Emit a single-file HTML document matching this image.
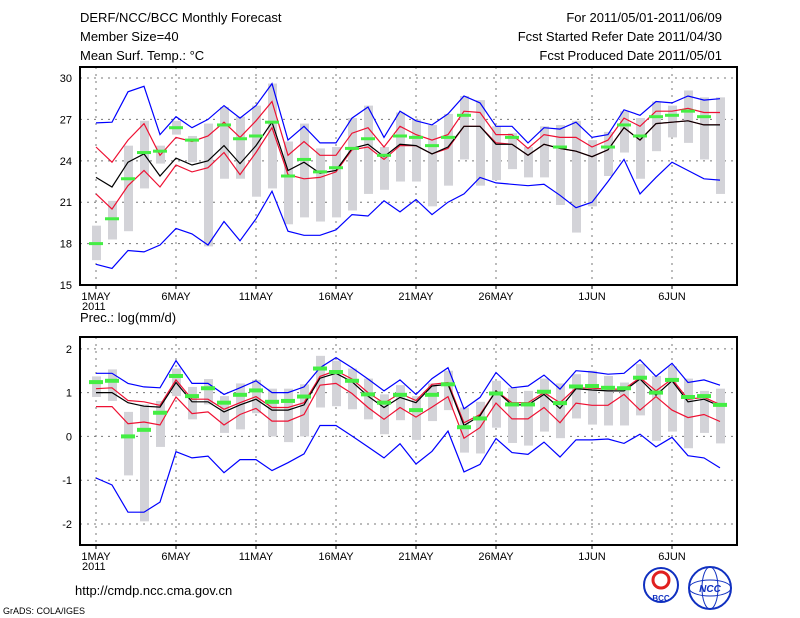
<!DOCTYPE html>
<html><head><meta charset="utf-8"><style>
html,body{margin:0;padding:0;background:#fff;}
svg{display:block;font-family:"Liberation Sans",sans-serif;}
.t{font-size:13px;fill:#000;}
.tk{font-size:11px;fill:#000;}
</style></head><body>
<svg id="c" width="800" height="618" viewBox="0 0 800 618" xmlns="http://www.w3.org/2000/svg">
<text class="t" x="80" y="22">DERF/NCC/BCC Monthly Forecast</text>
<text class="t" x="80" y="41">Member Size=40</text>
<text class="t" x="80" y="60">Mean Surf. Temp.: °C</text>
<text class="t" x="722" y="22" text-anchor="end">For 2011/05/01-2011/06/09</text>
<text class="t" x="722" y="41" text-anchor="end">Fcst Started Refer Date 2011/04/30</text>
<text class="t" x="722" y="60" text-anchor="end">Fcst Produced Date 2011/05/01</text>
<text class="t" x="80" y="322">Prec.: log(mm/d)</text>
<text class="t" x="75" y="595">http://cmdp.ncc.cma.gov.cn</text>
<text x="3" y="614" style="font-size:9px">GrADS: COLA/IGES</text>
<g>
<circle cx="661" cy="585" r="17" fill="#fff" stroke="#1030c0" stroke-width="2"/>
<circle cx="661" cy="580" r="8" fill="none" stroke="#e02020" stroke-width="3"/>
<text x="661" y="601" text-anchor="middle" style="font-size:8px;font-weight:bold" fill="#1030c0">BCC</text>
</g>
<g>
<circle cx="710" cy="588" r="21" fill="#fff" stroke="#1030c0" stroke-width="2"/>
<ellipse cx="710" cy="588" rx="21" ry="8" fill="none" stroke="#1030c0"/>
<ellipse cx="710" cy="588" rx="8" ry="21" fill="none" stroke="#1030c0"/>
<text x="710" y="592" text-anchor="middle" style="font-size:10px;font-weight:bold;font-style:italic" fill="#1030c0">NCC</text>
</g>
</svg>
<script>
// ---- Temperature panel data (40 days, 2011-05-01 .. 2011-06-09) ----
const tDays = 40;
const tBlueHi = [26.75,26.8,29.0,29.4,25.9,27.2,26.4,27.0,28.0,27.1,28.0,29.6,25.5,26.5,25.3,25.3,27.1,27.9,25.7,27.6,26.9,26.6,27.4,28.7,28.2,26.5,26.5,25.3,26.4,26.3,26.8,25.7,25.9,27.7,27.3,28.3,28.2,28.7,28.4,28.5];
const tBlueLo = [16.5,16.2,17.5,17.4,17.9,19.1,18.7,17.9,19.6,18.2,19.8,21.8,18.9,18.6,18.6,19.0,20.1,20.0,21.1,20.3,21.2,20.1,21.0,21.6,22.8,22.4,22.3,22.2,22.3,21.5,20.6,21.0,22.5,24.1,21.6,22.8,23.9,23.3,22.7,22.6];
const tRedHi = [25.0,23.9,25.5,26.7,24.4,25.7,25.4,25.8,26.8,25.7,26.9,28.3,24.4,25.4,24.4,24.4,26.0,26.4,25.0,26.5,25.9,25.5,25.9,27.6,27.5,25.9,25.9,24.9,25.9,25.7,25.7,25.0,25.5,27.1,26.5,27.6,27.6,27.8,27.5,27.5];
const tRedLo = [21.6,20.5,22.2,23.3,22.1,23.7,23.2,23.5,24.6,23.0,24.6,26.4,23.0,22.7,22.8,23.2,24.8,25.0,24.1,25.1,25.1,24.5,24.9,26.5,26.5,25.3,25.2,24.4,25.2,24.9,24.7,24.3,24.8,26.4,25.5,26.7,26.8,26.9,26.6,26.6];
const tMean = [22.8,22.1,23.9,24.5,22.9,24.2,23.7,24.0,25.1,23.8,25.1,26.8,23.3,23.9,23.1,23.3,24.9,25.2,24.3,25.2,25.1,24.5,25.0,26.5,26.5,25.2,25.2,24.4,25.2,24.9,24.7,24.3,24.8,26.4,25.5,26.7,26.8,26.9,26.6,26.6];
const tObs = [18.0,19.8,22.7,24.6,24.7,26.4,25.5,null,26.6,25.6,25.8,26.8,22.9,24.1,23.2,23.5,24.9,25.6,24.4,25.8,25.7,25.1,25.7,27.3,null,null,25.7,null,null,25.0,null,null,25.0,26.6,25.8,27.2,27.3,27.6,27.2,null];
const tMax = [19.3,21.1,25.1,26.9,25.1,26.9,25.8,26.7,27.9,27.2,28.0,29.6,25.4,26.7,24.9,25.0,27.1,28.0,25.0,27.5,27.0,26.6,27.4,28.7,28.4,26.5,26.0,25.0,26.5,26.6,26.9,25.5,26.1,27.6,27.1,28.3,28.0,29.1,28.6,28.6];
const tMin = [16.8,18.3,18.9,22.0,23.8,25.9,23.9,17.8,22.7,22.7,21.4,22.0,19.4,19.9,19.6,19.9,20.4,21.6,21.9,22.5,22.5,20.7,22.2,24.1,22.2,22.6,23.4,22.8,22.8,20.8,18.8,20.7,22.9,24.6,22.7,24.7,25.7,25.3,24.1,21.6];
const tTicks = [15,18,21,24,27,30];

// ---- Precipitation panel data ----
const pBlueHi = [1.44,1.44,1.21,1.13,1.11,1.73,1.21,1.21,0.96,1.11,1.27,1.0,1.0,1.13,1.57,1.80,1.57,1.31,1.04,1.29,0.96,1.32,1.57,0.63,0.89,1.46,1.11,1.15,1.40,1.08,1.50,1.47,1.42,1.44,1.75,1.37,1.67,1.23,1.29,1.17];
const pBlueLo = [-0.95,-1.11,-1.73,-1.73,-1.50,-0.35,-0.49,-0.45,-0.83,-0.53,-0.53,-0.78,-0.60,-0.40,0.25,0.25,0.01,-0.24,-0.49,-0.17,-0.63,-0.34,0.12,-0.81,-0.64,-0.05,-0.37,-0.41,-0.13,-0.47,-0.08,-0.08,-0.06,-0.16,0.05,-0.24,-0.02,-0.44,-0.49,-0.72];
const pRedHi = [1.09,1.11,0.82,0.79,0.71,1.29,0.85,0.85,0.62,0.77,0.91,0.66,0.66,0.77,1.37,1.50,1.31,1.0,0.76,0.98,0.82,1.19,1.23,0.31,0.50,1.04,0.77,0.77,1.0,0.77,1.11,1.10,1.08,1.08,1.34,1.04,1.31,0.85,0.89,0.73];
const pRedLo = [0.68,0.68,0.29,0.33,0.26,0.90,0.52,0.56,0.26,0.50,0.64,0.35,0.35,0.50,1.17,1.21,0.98,0.66,0.39,0.66,0.44,0.67,0.91,-0.04,0.20,0.76,0.40,0.40,0.66,0.31,0.76,0.71,0.71,0.96,0.60,0.91,0.60,0.43,0.50,0.34];
const pMean = [1.0,1.0,0.77,0.69,0.67,1.23,0.79,0.79,0.56,0.72,0.85,0.60,0.60,0.72,1.33,1.44,1.25,0.92,0.66,0.89,0.77,1.15,1.19,0.25,0.47,1.04,0.72,0.72,0.96,0.64,1.09,1.06,1.04,1.04,1.31,0.94,1.27,0.79,0.85,0.69];
const pObs = [1.24,1.27,0.0,0.15,0.54,1.38,0.92,1.10,0.77,0.95,1.05,0.79,0.81,0.91,1.55,1.47,1.27,0.96,0.77,0.95,0.60,0.95,1.19,0.21,0.41,0.98,0.73,0.73,1.02,0.76,1.14,1.15,1.11,1.10,1.34,1.0,1.29,0.90,0.92,0.72];
const pMax = [1.37,1.53,0.56,0.73,0.81,1.55,1.13,1.31,0.92,1.21,1.29,1.09,1.09,1.19,1.84,1.73,1.55,1.32,0.96,1.17,0.92,1.21,1.50,0.66,0.79,1.27,1.11,1.04,1.32,1.21,1.42,1.50,1.38,1.23,1.65,1.38,1.60,1.32,1.04,1.09];
const pMin = [0.90,0.81,-0.89,-1.94,-0.24,0.92,0.39,0.73,0.08,0.16,0.53,0,-0.13,0,0.66,0.69,0.62,0.39,0.05,0.37,-0.08,0.35,0.60,-0.37,-0.39,0.20,-0.15,-0.21,0.11,-0.04,0.41,0.27,0.25,0.25,0.48,-0.10,0.11,-0.27,0.08,-0.16];
const pTicks = [-2,-1,0,1,2];

const xLabels = ["1MAY","6MAY","11MAY","16MAY","21MAY","26MAY","1JUN","6JUN"];
const xLabelDay = [0,5,10,15,20,25,31,36];

const svg = document.getElementById('c');
const NS = 'http://www.w3.org/2000/svg';
function mk(tag, attrs, parent){
  const e = document.createElementNS(NS, tag);
  for (const k in attrs) e.setAttribute(k, attrs[k]);
  (parent||svg).appendChild(e);
  return e;
}
const xScale = i => 96 + i*16;

function panel(cfg){
  const {top, bottom, vTop, vBot, name} = cfg;
  const y = v => top + (vTop - v)/(vTop - vBot)*(bottom - top);
  const g = mk('g', {});
  
  
  // grid
  cfg.ticks.forEach(t => {
    const yy = y(t);
    if (yy > top+2 && yy < bottom-2) {
      const l = mk('line', {x1:80, x2:737, y1:yy, y2:yy, stroke:'#777', 'stroke-dasharray':'2,5'}, g);
      
      
    }
    const tx = mk('text', {x:72, y:yy+4, 'text-anchor':'end', class:'tk'}, g);
    
    
    tx.textContent = t;
  });
  xLabelDay.forEach((d, k) => {
    const xx = xScale(d);
    const l = mk('line', {x1:xx, x2:xx, y1:top, y2:bottom, stroke:'#777', 'stroke-dasharray':'2,5'}, g);
    
    
    mk('line', {x1:xx, x2:xx, y1:bottom, y2:bottom+4, stroke:'#000'}, g);
    const tx = mk('text', {x:xx, y:bottom+15, 'text-anchor':'middle', class:'tk'}, g);
    
    
    tx.textContent = xLabels[k];
  });
  const yr = mk('text', {x:82, y:bottom+25, class:'tk'}, g);
  
  
  yr.textContent = '2011';
  // bars
  cfg.max.forEach((mx, i) => {
    const mn = cfg.min[i];
    const r = mk('rect', {x:xScale(i)-4, y:y(mx), width:9, height:Math.max(1,y(mn)-y(mx)), fill:'#d3d3d8'}, g);
    
    
  });
  // lines
  const series = [[cfg.blueHi,'#0000ff','upper-bound-line'],[cfg.blueLo,'#0000ff','lower-bound-line'],
    [cfg.redHi,'#ee1133','upper-spread-line'],[cfg.redLo,'#ee1133','lower-spread-line'],[cfg.mean,'#000','ensemble-mean-line']];
  series.forEach(([arr,col,nm]) => {
    const p = mk('polyline', {points: arr.map((v,i)=>xScale(i)+','+y(v).toFixed(1)).join(' '), fill:'none', stroke:col, 'stroke-width':1.2}, g);
    
    
  });
  cfg.obs.forEach((v,i) => {
    if (v === null) return;
    const r = mk('rect', {x:xScale(i)-7, y:y(v)-cfg.oh/2, width:14, height:cfg.oh, fill:'#44ee44'}, g);
    
    
  });
  const f = mk('rect', {x:80, y:top, width:657, height:bottom-top, fill:'none', stroke:'#000', 'stroke-width':2}, g);
  
  
}
panel({name:'temperature-panel', top:67, bottom:285, vTop:30.8, vBot:15, ticks:tTicks,
  max:tMax, min:tMin, blueHi:tBlueHi, blueLo:tBlueLo, redHi:tRedHi, redLo:tRedLo, mean:tMean, obs:tObs, oh:3});
panel({name:'precipitation-panel', top:337, bottom:545, vTop:2.27, vBot:-2.48, ticks:pTicks,
  max:pMax, min:pMin, blueHi:pBlueHi, blueLo:pBlueLo, redHi:pRedHi, redLo:pRedLo, mean:pMean, obs:pObs, oh:4});
</script>
</body></html>
